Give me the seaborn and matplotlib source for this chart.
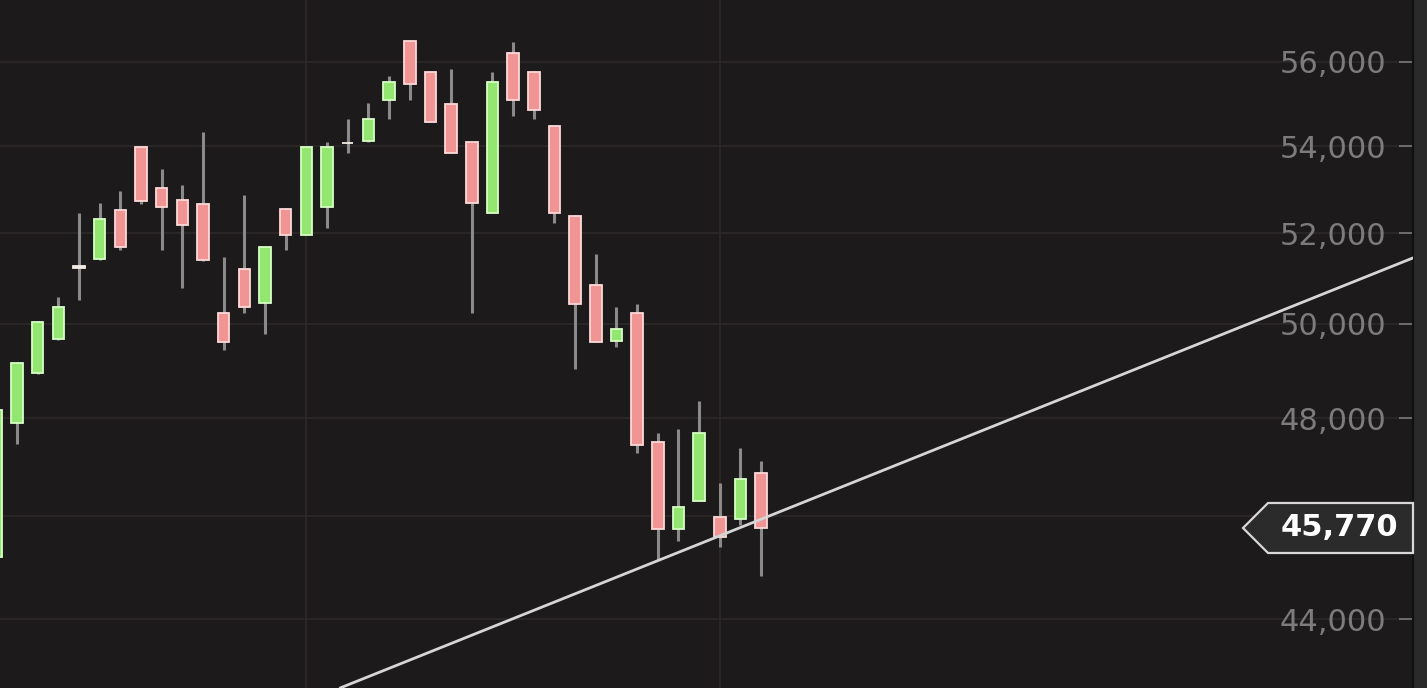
import numpy as np
import pandas as pd
import seaborn as sns
import matplotlib
matplotlib.use("Agg")
import matplotlib.pyplot as plt
from matplotlib.ticker import FixedLocator, FuncFormatter, NullLocator
from matplotlib.patches import Polygon
from matplotlib.transforms import IdentityTransform

# ---- data ----
idx = list(range(38))
opens = [45200, 47900, 48950, 49675, 51230, 51424, 52527, 53980, 53030, 52755,
         52664, 50236, 51200, 50454, 52550, 51960, 52595, 54060, 54117, 55087,
         56513, 55760, 54990, 54094, 52459, 56220, 55760, 54472, 52391, 50847,
         49632, 50236, 47508, 45752, 46310, 45988, 45949, 46876]
highs = [48200, 49180, 50060, 50590, 52460, 52690, 52960, 53990, 53470, 53100,
         54330, 51470, 52870, 51700, 52560, 53990, 54095, 54637, 55014, 55663,
         56520, 55770, 55832, 54100, 55760, 56490, 55770, 54480, 52400, 51536,
         50367, 50432, 47693, 47776, 48359, 46672, 47385, 47117]
lows = [45150, 47470, 48930, 49650, 50520, 51400, 51625, 52660, 51625, 50780,
        51380, 49440, 50236, 49780, 51625, 51950, 52118, 53838, 54100, 54637,
        55087, 54560, 53830, 50236, 52450, 54708, 54637, 52232, 49032, 49600,
        49503, 47282, 45142, 45516, 46300, 45398, 45831, 44830]
closes = [48170, 49160, 50040, 50370, 51260, 52323, 51692, 52730, 52595, 52186,
          51400, 49610, 50367, 51692, 51960, 53977, 53977, 54080, 54637, 55519,
          55471, 54566, 53838, 52686, 55519, 55087, 54849, 52459, 50432, 49610,
          49889, 47447, 45752, 46185, 47693, 45596, 46753, 45770]
yticks = [44000, 46000, 48000, 50000, 52000, 54000, 56000]
trend_x = [16.63, 68.54]
trend_y = [42707, 51446]
last_price = 45770

df = pd.DataFrame({"i": idx, "open": opens, "high": highs, "low": lows, "close": closes})

# ---- style ----
BG = "#1c1a1a"
sns.set_theme(style="dark")
plt.rcParams["font.family"] = ["DejaVu Sans"]

fig = plt.figure(figsize=(14.27, 6.88), dpi=100, facecolor="#2a2a2a")
W, H = 1427, 688
ax = fig.add_axes([0, 0, 1413 / W, 1])
ax.set_facecolor(BG)

ax.set_yscale("log")
ax.set_ylim(42707, 57523)
ax.set_xlim(0.1775, 68.54)

# grid
ax.yaxis.set_major_locator(FixedLocator(yticks))
ax.yaxis.set_minor_locator(NullLocator())
ax.yaxis.set_major_formatter(FuncFormatter(lambda v, p: f"{v:,.0f}"))
ax.xaxis.set_major_locator(FixedLocator([15, 35]))
ax.xaxis.set_minor_locator(NullLocator())
ax.grid(True, axis="both", color="#2d2929", linewidth=1.2)
ax.set_axisbelow(True)

# candles
up = df["close"] > df["open"]
doji = (df["close"] - df["open"]).abs() / df["open"] < 0.001
fills, edges = [], []
for u, d in zip(up, doji):
    if d:
        fills.append("#e8ded6"); edges.append("#f4ece6")
    elif u:
        fills.append("#93e66f"); edges.append("#d6ffc6")
    else:
        fills.append("#f09494"); edges.append("#ffd9d9")

ax.vlines(df["i"], df["low"], df["high"], color="#8a8a8a", linewidth=2.2, zorder=2)
ax.bar(df["i"], (df["close"] - df["open"]).abs(), bottom=df[["open", "close"]].min(axis=1),
       width=0.56, color=fills, edgecolor=edges, linewidth=1.3, zorder=3)

# trend line
sns.lineplot(x=trend_x, y=trend_y, ax=ax, color="#d6d6d6", linewidth=2.0, zorder=4)

# axis cosmetics
for s in ["top", "left", "bottom"]:
    ax.spines[s].set_visible(False)
ax.spines["right"].set_color("#101010")
ax.spines["right"].set_linewidth(1.5)
ax.tick_params(axis="x", bottom=False, labelbottom=False)
ax.yaxis.tick_right()
ax.tick_params(axis="y", which="major", direction="in", length=10, width=1.2,
               color="#7a7a7a", right=True, left=False, labelright=True, labelleft=False,
               pad=-19, labelsize=22, labelcolor="#7c7c7c")
for t in ax.yaxis.get_major_ticks():
    t.label2.set_horizontalalignment("right")
ax.set_xlabel(""); ax.set_ylabel("")

# last price badge
fig.canvas.draw()
yc = ax.transData.transform((0, last_price))[1]
xr = ax.transAxes.transform((1, 0))[0]
pts = [(xr - 170, yc), (xr - 145, yc + 25), (xr, yc + 25), (xr, yc - 25), (xr - 145, yc - 25)]
badge = Polygon(pts, closed=True, facecolor="#2b2b2b", edgecolor="#d8d8d8",
                linewidth=1.6, transform=IdentityTransform(), zorder=10, clip_on=False)
fig.add_artist(badge)
fig.text((xr - 74) / W, yc / H, f"{last_price:,}", color="white", fontsize=22,
         fontweight="bold", ha="center", va="center", zorder=11)

fig.savefig("out.png", dpi=100, facecolor=fig.get_facecolor())
